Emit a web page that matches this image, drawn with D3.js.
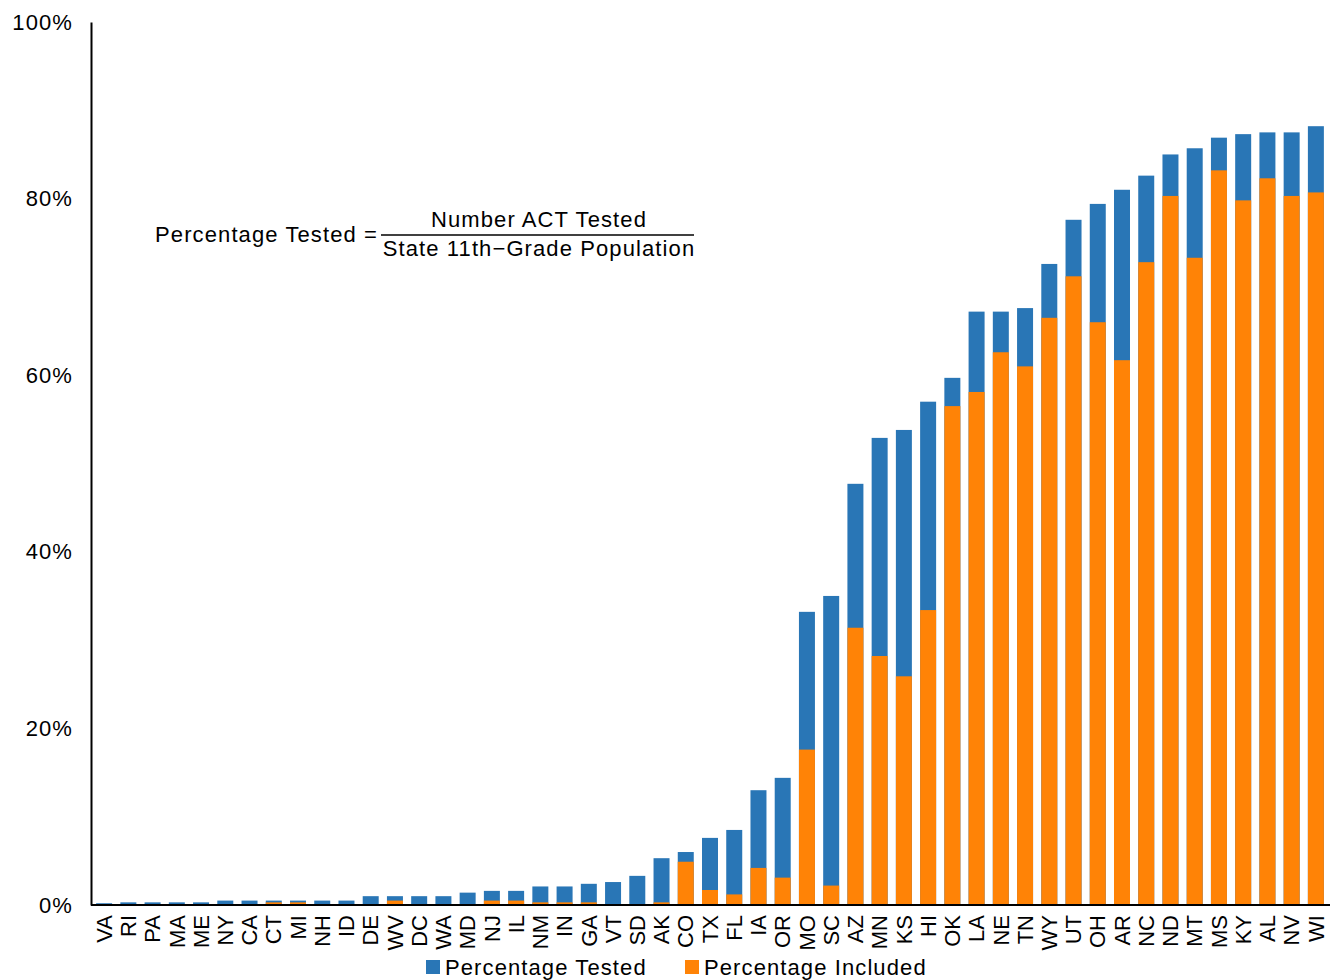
<!DOCTYPE html>
<html>
<head>
<meta charset="utf-8">
<script src="https://cdn.jsdelivr.net/npm/d3@7"></script>
<style>
  body { margin: 0; background: #fff; }
  svg { font-family: "Liberation Sans", Arial, sans-serif; }
</style>
</head>
<body>
<svg></svg>
<script>
// data
const states = ['VA','RI','PA','MA','ME','NY','CA','CT','MI','NH','ID','DE','WV','DC','WA','MD','NJ','IL','NM','IN','GA','VT','SD','AK','CO','TX','FL','IA','OR','MO','SC','AZ','MN','KS','HI','OK','LA','NE','TN','WY','UT','OH','AR','NC','ND','MT','MS','KY','AL','NV','WI'];

const tested = [0.2,0.3,0.3,0.3,0.3,0.5,0.5,0.5,0.5,0.5,0.5,1.0,1.0,1.0,1.0,1.4,1.6,1.6,2.1,2.1,2.4,2.6,3.3,5.3,6.0,7.6,8.5,13.0,14.4,33.2,35.0,47.7,52.9,53.8,57.0,59.7,67.2,67.2,67.6,72.6,77.6,79.4,81.0,82.6,85.0,85.7,86.9,87.3,87.5,87.5,88.2];

const included = [0,0,0.1,0.1,0,0.1,0.1,0.3,0.3,0,0,0,0.5,0,0.1,0.1,0.5,0.5,0.3,0.3,0.3,0,0,0.3,4.9,1.7,1.2,4.2,3.1,17.6,2.2,31.4,28.2,25.9,33.4,56.5,58.1,62.6,61.0,66.5,71.2,66.0,61.7,72.8,80.3,73.3,83.2,79.8,82.3,80.3,80.7];

const yTicks = [0, 20, 40, 60, 80, 100];

const w = 1337;
const h = 980;
const blue = '#2976b6';
const orange = '#ff8306';
const spacing = '1.1px'; //the original text is a bit wider than Liberation Sans

const svg = d3.select('svg')
    .attr('width', w)
    .attr('height', h);

const xScale = d3.scaleBand()
    .domain(states)
    .range([92, 1328])
    .paddingInner(0.34)
    .paddingOuter(0.17);

const yScale = d3.scaleLinear()
    .domain([0, 100])
    .range([905, 22]);

//bars: tested drawn full height, included on top of it
svg.append('g')
    .selectAll('rect')
    .data(states)
    .enter()
    .append('rect')
    .attr('x', (d) => xScale(d))
    .attr('width', xScale.bandwidth())
    .attr('y', (d, i) => yScale(tested[i]))
    .attr('height', (d, i) => yScale(0) - yScale(tested[i]))
    .attr('fill', blue);

svg.append('g')
    .selectAll('rect')
    .data(states)
    .enter()
    .append('rect')
    .attr('x', (d) => xScale(d))
    .attr('width', xScale.bandwidth())
    .attr('y', (d, i) => yScale(included[i]))
    .attr('height', (d, i) => yScale(0) - yScale(included[i]))
    .attr('fill', orange);

//y axis
const yAxis = d3.axisLeft(yScale)
    .tickValues(yTicks)
    .tickSize(0)
    .tickPadding(18)
    .tickFormat((d) => d + '%');

const yG = svg.append('g')
    .attr('transform', 'translate(91,0)')
    .call(yAxis);
yG.select('.domain').attr('stroke', '#000').attr('stroke-width', 2);
yG.selectAll('text')
    .attr('font-size', 22)
    .attr('font-family', '"Liberation Sans", Arial, sans-serif')
    .attr('letter-spacing', spacing)
    .attr('fill', '#000');

//x axis
const xAxis = d3.axisBottom(xScale)
    .tickSize(0)
    .tickPadding(0);

const xG = svg.append('g')
    .attr('transform', 'translate(0,905)')
    .call(xAxis);
xG.select('.domain')
    .attr('d', 'M91,0H1330')
    .attr('stroke', '#000')
    .attr('stroke-width', 2);
xG.selectAll('text')
    .attr('font-size', 22)
    .attr('font-family', '"Liberation Sans", Arial, sans-serif')
    .attr('fill', '#000')
    .attr('text-anchor', 'end')
    .attr('transform', 'rotate(-90)')
    .attr('x', -10)
    .attr('y', 0)
    .attr('dy', '0.35em');

//formula
const eq = svg.append('g')
    .attr('font-size', 22)
    .attr('letter-spacing', spacing)
    .attr('fill', '#000');
eq.append('text')
    .attr('x', 378)
    .attr('y', 242)
    .attr('text-anchor', 'end')
    .text('Percentage Tested =');
eq.append('text')
    .attr('x', 539)
    .attr('y', 227)
    .attr('text-anchor', 'middle')
    .text('Number ACT Tested');
eq.append('line')
    .attr('x1', 381)
    .attr('x2', 694)
    .attr('y1', 235)
    .attr('y2', 235)
    .attr('stroke', '#000')
    .attr('stroke-width', 1.5);
eq.append('text')
    .attr('x', 539)
    .attr('y', 256)
    .attr('text-anchor', 'middle')
    .text('State 11th\u2212Grade Population');

//legend
const legendItems = [
    { label: 'Percentage Tested', color: blue, x: 426 },
    { label: 'Percentage Included', color: orange, x: 685 }
];
const legend = svg.append('g');
legend.selectAll('rect')
    .data(legendItems)
    .enter()
    .append('rect')
    .attr('x', (d) => d.x)
    .attr('y', 960)
    .attr('width', 14)
    .attr('height', 14)
    .attr('fill', (d) => d.color);
legend.selectAll('text')
    .data(legendItems)
    .enter()
    .append('text')
    .attr('x', (d) => d.x + 19)
    .attr('y', 975)
    .attr('font-size', 22)
    .attr('letter-spacing', spacing)
    .attr('fill', '#000')
    .text((d) => d.label);
</script>
</body>
</html>
